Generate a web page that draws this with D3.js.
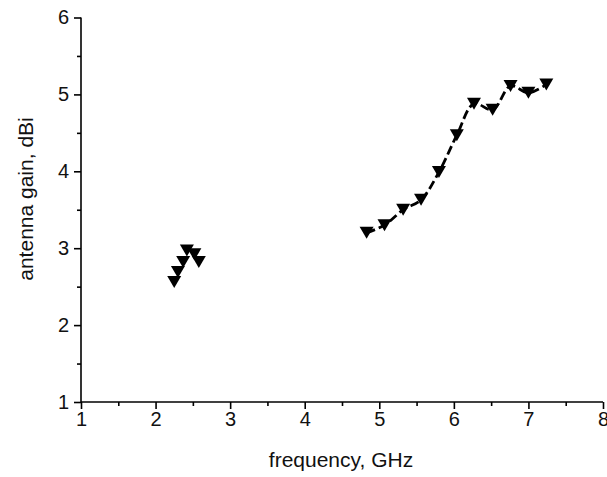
<!DOCTYPE html>
<html><head><meta charset="utf-8">
<script src="https://cdn.jsdelivr.net/npm/d3@7"></script>
<style>body{margin:0;background:#fff}svg{display:block}</style>
</head><body>
<svg id="c" width="607" height="477"></svg>
<script>
const lowBandFreq = [2.25, 2.30, 2.37, 2.42, 2.52, 2.58];
const lowBandGain = [2.56, 2.69, 2.82, 2.97, 2.92, 2.82];
const highBandFreq = [4.83, 5.07, 5.32, 5.56, 5.80, 6.04, 6.27, 6.52, 6.76, 7.00, 7.24];
const highBandGain = [3.20, 3.30, 3.50, 3.63, 3.99, 4.47, 4.88, 4.80, 5.11, 5.02, 5.13];
const xTicks = [1, 2, 3, 4, 5, 6, 7, 8];
const yTicks = [1, 2, 3, 4, 5, 6];
const xLabel = "frequency, GHz";
const yLabel = "antenna gain, dBi";

const svg = d3.select("#c");
const x = d3.scaleLinear().domain([1, 8]).range([81, 603]);
const y = d3.scaleLinear().domain([1, 6]).range([402, 17.5]);
const font = "Liberation Sans, Arial, sans-serif";

const xAxis = d3.axisBottom(x).tickValues(xTicks).tickSize(7).tickPadding(3).tickFormat(d3.format("d"));
const yAxis = d3.axisLeft(y).tickValues(yTicks).tickSize(7).tickPadding(5).tickFormat(d3.format("d"));
const xMinor = d3.axisBottom(x).tickValues(d3.range(1.5, 8, 1)).tickSize(4).tickFormat("");
const yMinor = d3.axisLeft(y).tickValues(d3.range(1.5, 6, 1)).tickSize(4).tickFormat("");

function style(g){
  g.attr("font-size", null).attr("font-family", null);
  g.select(".domain").attr("stroke","#000").attr("stroke-width",1.6);
  g.selectAll(".tick line").attr("stroke","#000").attr("stroke-width",1.6);
  g.selectAll(".tick text").attr("fill","#111").style("font-family",font).style("font-size","20px");
}
svg.append("g").attr("transform","translate(0,402)").call(xMinor).call(style).select(".domain").remove();
svg.append("g").attr("transform","translate(81,0)").call(yMinor).call(style).select(".domain").remove();
svg.append("g").attr("transform","translate(0,402)").call(xAxis).call(style)
  .select(".domain").attr("d", `M81,0H603`);
svg.append("g").attr("transform","translate(81,0)").call(yAxis).call(style)
  .select(".domain").attr("d", `M0,402V17.5`);

svg.append("text").attr("x", 341).attr("y", 467).attr("text-anchor","middle")
  .style("font-family",font).style("font-size","21px").attr("fill","#111").text(xLabel);
svg.append("text").attr("transform","translate(33,199) rotate(-90)").attr("text-anchor","middle")
  .style("font-family",font).style("font-size","21px").attr("fill","#111").text(yLabel);

const hi = highBandFreq.map((f,i)=>({f, g: highBandGain[i]}));
const lo = lowBandFreq.map((f,i)=>({f, g: lowBandGain[i]}));
const line = d3.line().x(d=>x(d.f)).y(d=>y(d.g)).curve(d3.curveCatmullRom.alpha(0.5));
svg.append("path").datum(hi).attr("d", line).attr("fill","none")
  .attr("stroke","#000").attr("stroke-width",2.8).attr("stroke-dasharray","9,4");

const tri = "M-7,-6L7,-6L0,6Z";
svg.append("g").selectAll("path").data(lo.concat(hi)).join("path")
  .attr("d", tri).attr("transform", d=>`translate(${x(d.f)},${y(d.g)})`).attr("fill","#000");
</script>
</body></html>
